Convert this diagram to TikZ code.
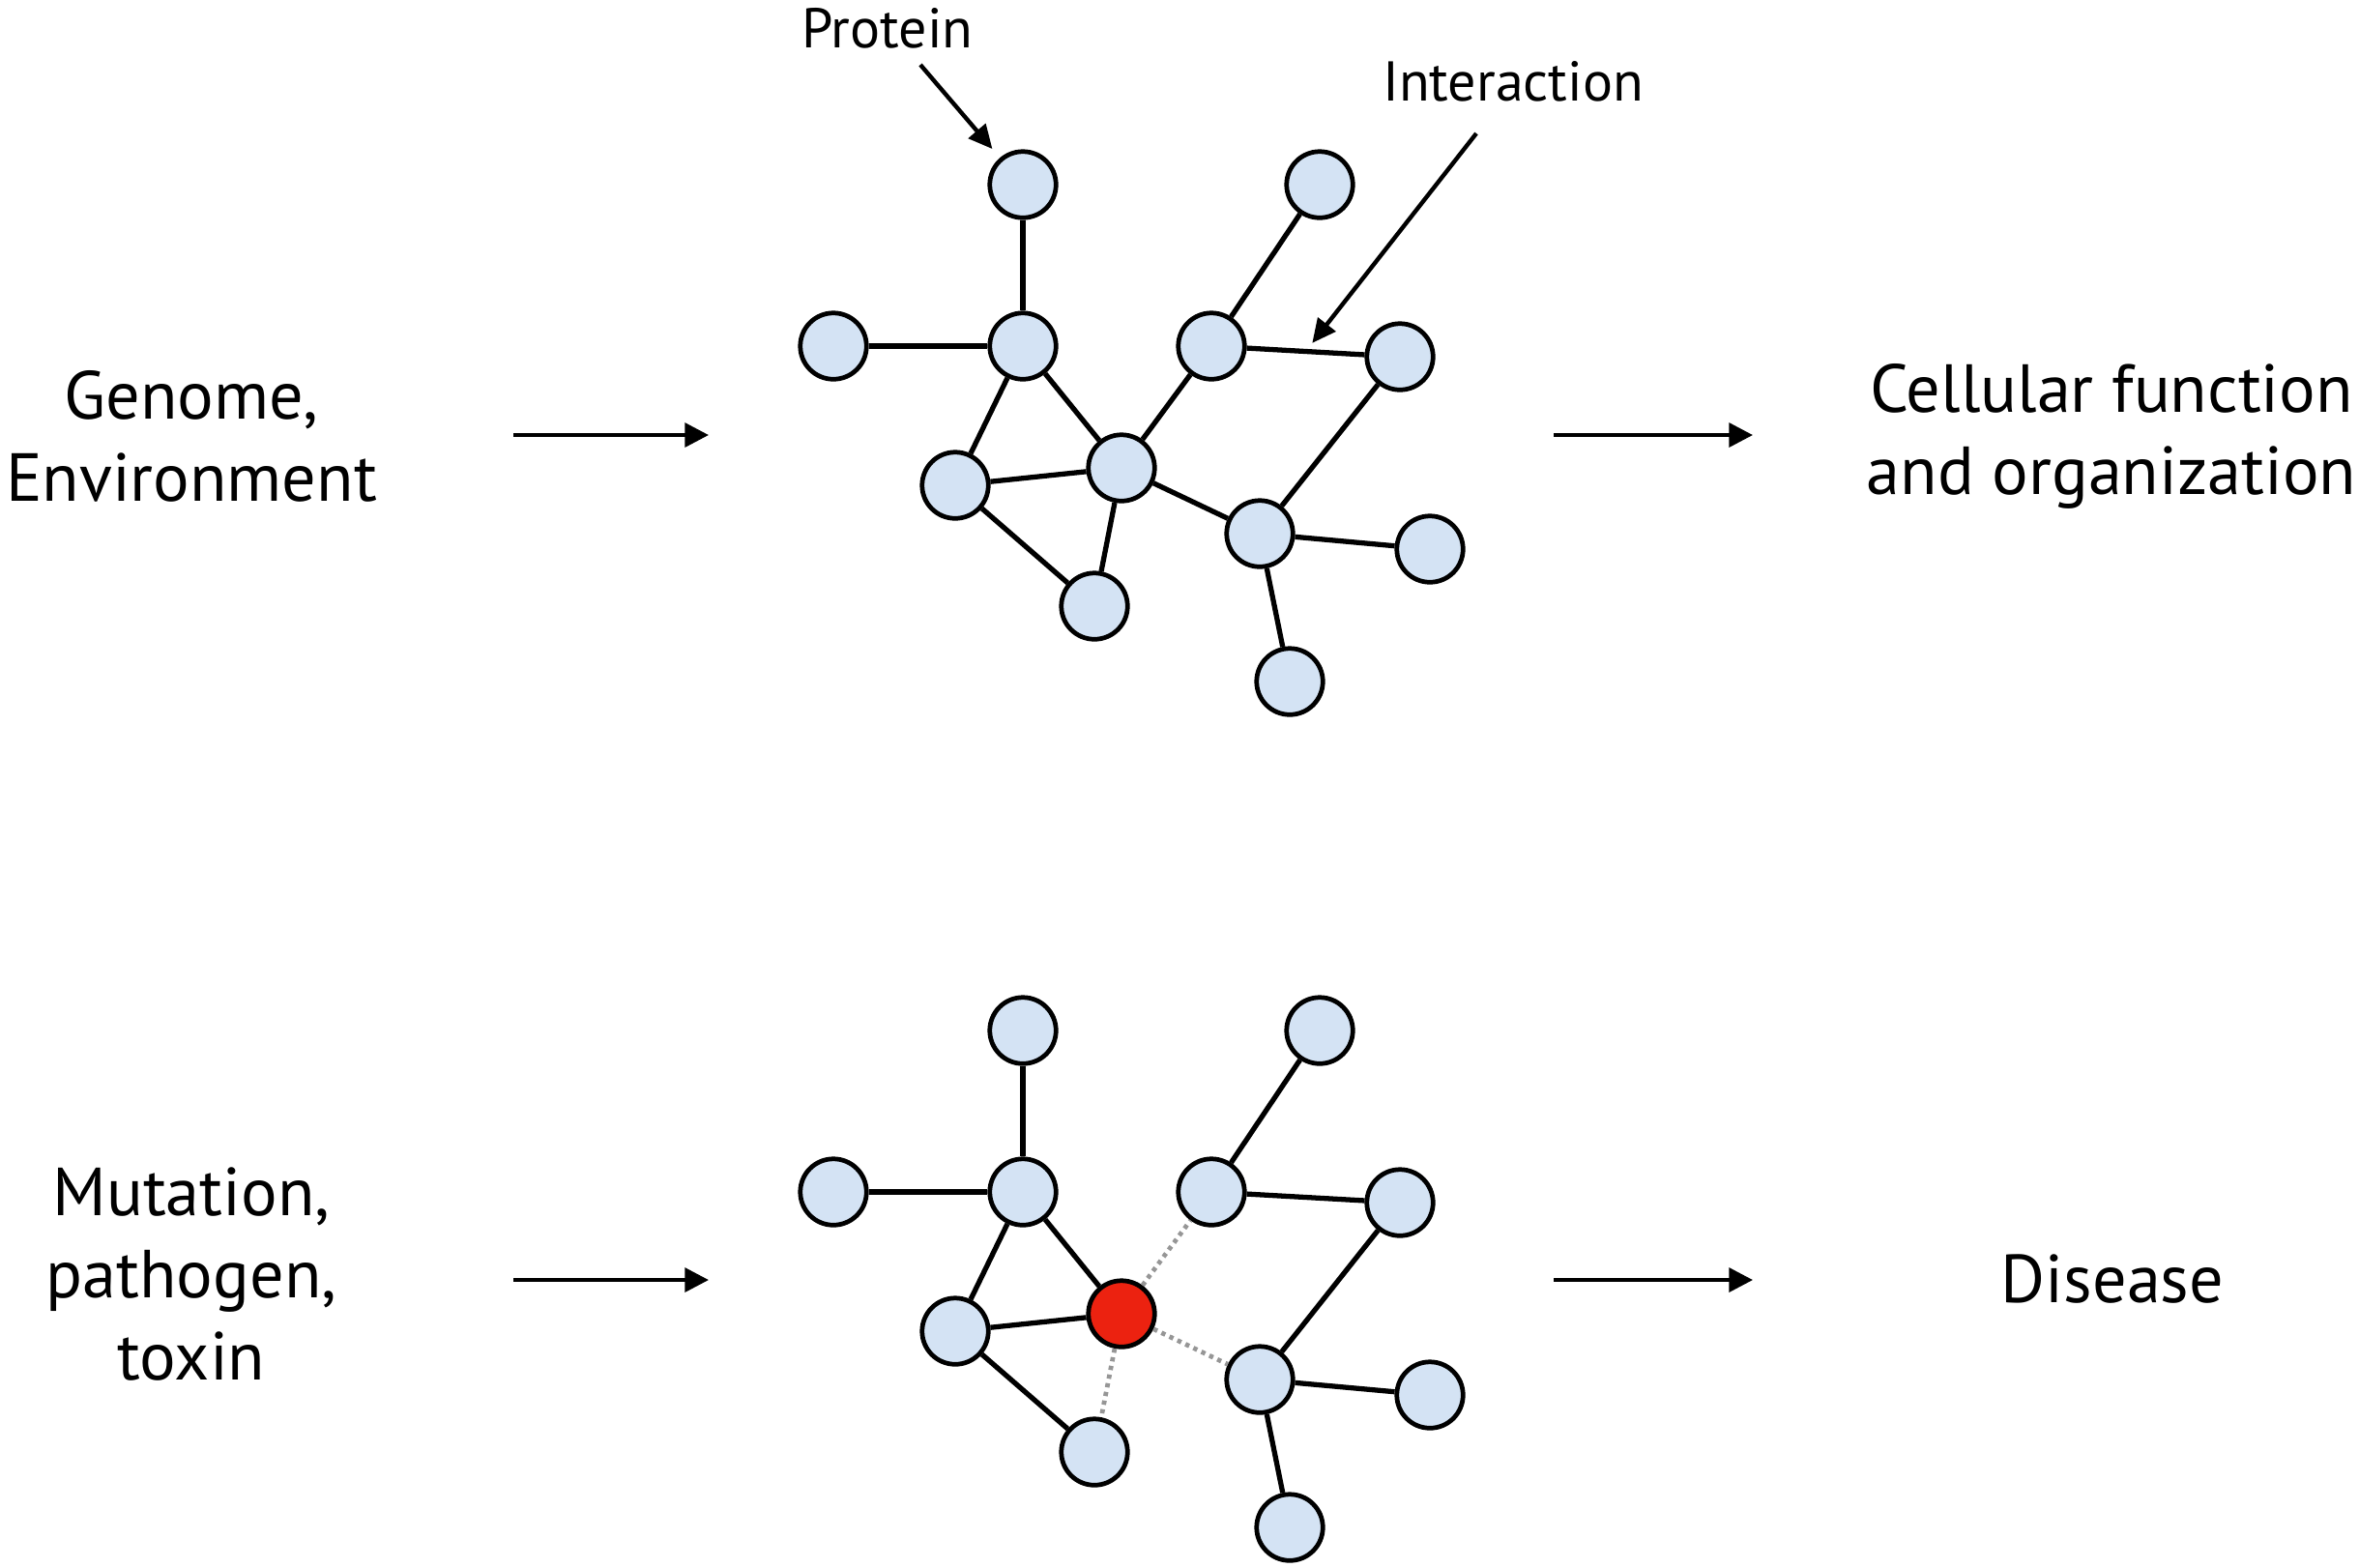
\documentclass[tikz,border=0pt]{standalone}
\usepackage{fontspec}
\setmainfont{PT Sans}
\usetikzlibrary{arrows.meta,calc}

\definecolor{protblue}{RGB}{212,227,244}
\definecolor{hitred}{RGB}{236,34,16}
\definecolor{lostgray}{RGB}{150,150,150}

\tikzset{
  protein/.style={circle,draw=black,line width=1.35pt,fill=protblue,inner sep=0pt,minimum size=0.685cm},
  hit/.style={protein,fill=hitred},
  link/.style={line width=1.5pt},
  lost/.style={line width=1.35pt,lostgray,dash pattern=on 1.25pt off 1.35pt},
  flow/.style={line width=1.2pt,-{Triangle[length=7pt,width=7pt]}},
  annot/.style={line width=1.25pt,-{Triangle[length=7pt,width=6.5pt]}},
  biglbl/.style={align=center,font=\fontsize{20}{24.2}\selectfont},
  smalllbl/.style={font=\fontsize{16.5}{20}\selectfont},
}

% proteins around the central one (E), same layout in both rows
\def\protpos{A/10.58/-1.91, B/8.62/-3.58, C/10.58/-3.58, D/9.88/-5.02,
  F/11.32/-6.27, G/12.53/-3.58, H/13.65/-1.91, I/14.48/-3.69,
  J/13.03/-5.52, K/14.79/-5.68, L/13.34/-7.05}

\begin{document}
\begin{tikzpicture}
\useasboundingbox (0,0) rectangle (24.4,-16.21);

% healthy network
\begin{scope}[name prefix=t]
\foreach \n/\x/\y in \protpos
  \node[protein] (\n) at (\x,\y) {};
\node[protein] (E) at (11.60,-4.84) {};
\foreach \u/\v in {A/C,B/C,C/D,C/E,D/E,D/F,E/F,E/G,E/J,G/H,G/I,I/J,J/K,J/L}
  \draw[link] (\u) -- (\v);
\end{scope}

% perturbed network
\begin{scope}[yshift=-8.75cm,name prefix=b]
\foreach \n/\x/\y in \protpos
  \node[protein] (\n) at (\x,\y) {};
\node[hit] (E) at (11.60,-4.84) {};
\foreach \u/\v in {A/C,B/C,C/D,C/E,D/E,D/F,G/H,G/I,I/J,J/K,J/L}
  \draw[link] (\u) -- (\v);
\foreach \v in {F,G,J}
  \draw[lost] (E) -- (\v);
\end{scope}

% annotations
\node[smalllbl] (protlbl) at (9.18,-0.29) {Protein};
\node[smalllbl] (intlbl) at (15.65,-0.84) {Interaction};
\coordinate (ptail) at (9.52,-0.67);
\coordinate (itail) at (15.27,-1.38);
\draw[annot,shorten >=0.12cm] (ptail) -- (tA);
\draw[annot,shorten >=0.11cm] (itail) -- ($(tG)!0.5!(tI)$);

% inputs and outcomes
\node[biglbl] (genome) at (1.98,-4.51) {Genome,\\Environment};
\node[biglbl] (cellfn) at (21.84,-4.51) {Cellular function\\and organization};
\node[biglbl] (mutation) at (1.98,-13.18) {Mutation,\\pathogen,\\toxin};
\node[biglbl] (disease) at (21.85,-13.23) {Disease};

\coordinate (in1) at (5.31,-4.50);
\coordinate (net1) at (7.33,-4.50);
\coordinate (out1) at (16.07,-4.50);
\coordinate (res1) at (18.13,-4.50);
\coordinate (in2) at (5.31,-13.24);
\coordinate (net2) at (7.33,-13.24);
\coordinate (out2) at (16.07,-13.24);
\coordinate (res2) at (18.13,-13.24);
\draw[flow] (in1) -- (net1);
\draw[flow] (out1) -- (res1);
\draw[flow] (in2) -- (net2);
\draw[flow] (out2) -- (res2);
\end{tikzpicture}
\end{document}
